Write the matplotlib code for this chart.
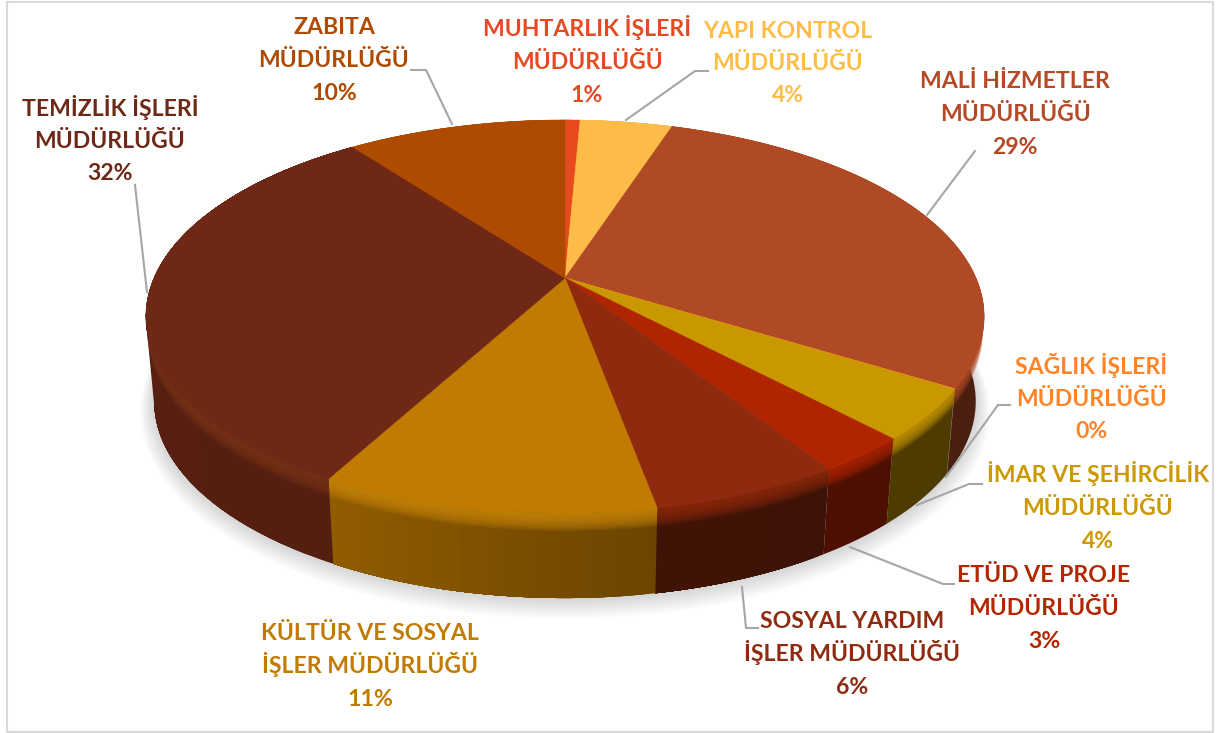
import numpy as np
import matplotlib
matplotlib.use("Agg")
import matplotlib.pyplot as plt
from matplotlib.colors import to_rgb

plt.rcParams['font.family'] = ['Lato', 'DejaVu Sans']

# Clockwise from 12 o'clock
names = ["MUHTARLIK İŞLERİ\nMÜDÜRLÜĞÜ", "YAPI KONTROL\nMÜDÜRLÜĞÜ", "MALİ HİZMETLER\nMÜDÜRLÜĞÜ",
         "SAĞLIK İŞLERİ\nMÜDÜRLÜĞÜ", "İMAR VE ŞEHİRCİLİK\nMÜDÜRLÜĞÜ", "ETÜD VE PROJE\nMÜDÜRLÜĞÜ",
         "SOSYAL YARDIM\nİŞLER MÜDÜRLÜĞÜ", "KÜLTÜR VE SOSYAL\nİŞLER MÜDÜRLÜĞÜ",
         "TEMİZLİK İŞLERİ\nMÜDÜRLÜĞÜ", "ZABITA\nMÜDÜRLÜĞÜ"]
shares = [0.7, 4.3, 28.8, 0.03, 4.17, 3.0, 6.1, 10.8, 31.9, 10.2]

top_colors = ["#E64A1E", "#FDBB48", "#B04A24", "#FF8427", "#C99800", "#B02500",
              "#8F2A0E", "#C07B00", "#6E2815", "#AE4B00"]
text_colors = ["#E64A22", "#FFBD47", "#B64926", "#FF8427", "#CC9900", "#B22600",
               "#8F2B10", "#C07B00", "#6E2916", "#AE4B00"]
# side brightness at the start and end of each slice, and rim highlight
side_shade = [(.6, .6), (.6, .6), (.42, .42), (.42, .42), (.39, .39), (.44, .44),
              (.43, .45), (.56, .75), (.76, .85), (.6, .6)]
rim_light = [0, 0, 0, 0, 0, 0, 0, .14, .08, 0]

label_xy = [(587, 61), (788, 62), (1015, 113), (1091, 398), (1098, 507), (1044, 607),
            (852, 653), (370, 665), (110, 140), (334, 59)]

leaders = [None,
           [(708, 71), (695, 71), (626, 120)],
           [(975, 151), (927, 215)],
           [(1010, 405), (998, 405), (946, 477)],
           [(982, 484), (969, 484), (917, 505)],
           [(954, 584), (943, 584), (850, 547)],
           [(758, 628), (746, 628), (742, 587)],
           None,
           [(135, 185), (147, 292)],
           [(411, 70), (426, 70), (452, 124)]]

# perspective of the pie plane, in pixels
APEX = (565, 278)
K, A, B = 0.196, 189.0, 411.0
DEPTH, SHRINK = 85.0, 0.98
BEVEL = 18.0
LINE_GAP = 32.5


def ring(t, r=1.0, h=0.0):
    u, v = r * np.sin(np.radians(t)), -r * np.cos(np.radians(t))
    d = 1 - K * v
    s = 1 - (1 - SHRINK) * h / DEPTH
    return np.column_stack([APEX[0] + s * B * u / d, APEX[1] + A * v / d + h])


def band(ts, h0, h1):
    return np.vstack([ring(ts, h=h0), ring(ts[::-1], h=h1)])


def mix(a, b, f):
    return tuple((1 - f) * np.array(a) + f * np.array(b))


fig = plt.figure(figsize=(12.17, 7.33), dpi=100)
ax = fig.add_axes([0, 0, 1, 1])
ax.set_xlim(0, 1217)
ax.set_ylim(733, 0)
ax.axis('off')

# chart frame
ax.plot([7, 1213, 1213, 7, 7], [2, 2, 732, 732, 2], color="#D9D9D9", lw=1.5, zorder=1)

# soft shadow under the pie
circle = np.linspace(0, 360, 361)
for g in np.linspace(1, 0, 22):
    pts = ring(circle, h=DEPTH)
    pts[:, 0] = APEX[0] + (pts[:, 0] - APEX[0]) * (1 + .035 * g)
    pts[:, 1] = APEX[1] + (pts[:, 1] - APEX[1]) * (1 + .05 * g) + 5 * g
    ax.fill(pts[:, 0], pts[:, 1], color="k", alpha=.007, lw=0, zorder=2)

edges = np.concatenate([[0], np.cumsum(shares)]) / np.sum(shares) * 360
for i, c in enumerate(top_colors):
    t0, t1 = edges[i], edges[i + 1]
    base = np.array(to_rgb(c))
    ts = np.linspace(t0, t1, 60)
    # side: overlapping strips so the shade changes without seams
    s0, s1 = side_shade[i]
    steps = 1 if s0 == s1 else 24
    for j in range(steps):
        sub = ts[int(j / steps * 59):]
        sh = s0 + (s1 - s0) * j / max(1, steps - 1)
        p = band(sub, 0, DEPTH)
        ax.fill(p[:, 0], p[:, 1], color=tuple(base * sh), lw=0, zorder=3)
    # bevel: top colour (or highlight) fading into the side
    hl = mix(base, (1, .8, .35), rim_light[i])
    for h in np.linspace(BEVEL, 1, 14):
        p = band(ts, 0, h)
        ax.fill(p[:, 0], p[:, 1], color=hl, alpha=.14, lw=0, zorder=3)

# top face
for i, c in enumerate(top_colors):
    ts = np.linspace(edges[i], edges[i + 1], 80)
    pts = np.vstack([[APEX], ring(ts)])
    ax.fill(pts[:, 0], pts[:, 1], color=c, lw=.4, zorder=4)

# leader lines and labels
for line in leaders:
    if line:
        xs, ys = zip(*line)
        ax.plot(xs, ys, color="#A6A6A6", lw=1.5, zorder=6)

for name, v, xy, c in zip(names, shares, label_xy, text_colors):
    rows = name.split("\n") + [f"{round(v)}%"]
    for n, row in enumerate(rows):
        ax.text(xy[0], xy[1] + 8 + (n - 1) * LINE_GAP, row, color=c, fontsize=16.6, fontweight='bold',
                ha='center', va='baseline', zorder=7)

fig.savefig("out.png", dpi=100)
